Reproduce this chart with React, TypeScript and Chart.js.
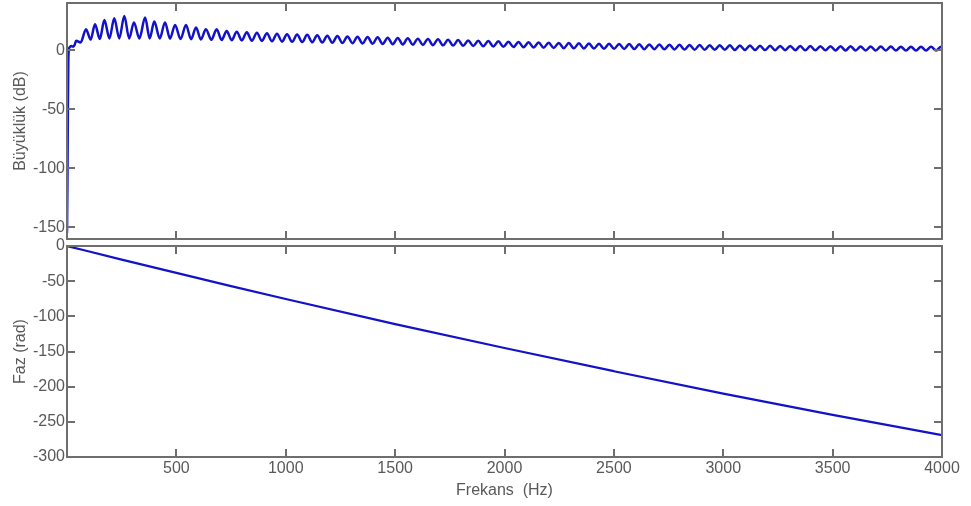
import { useEffect, useRef } from "react";
import { Chart, registerables } from "chart.js";

Chart.register(...registerables);

// ---------- data ----------
const xTickValues = [500, 1000, 1500, 2000, 2500, 3000, 3500, 4000];
const magTickValues = [-150, -100, -50, 0];
const phaseTickValues = [-300, -250, -200, -150, -100, -50, 0];

// magnitude onset (Hz, dB)
const magOnset: [number, number][] = [
  [0, -155], [2, -110], [4, -50], [6, -10], [8, 0], [12, 2.5], [20, 3.5], [28, 3], [34, 4],
];

// ripple peaks (Hz, dB)
const magPeaks: [number, number][] = [
  [42, 8], [87, 17.7], [128, 22], [171, 25.5], [216, 27], [262, 29], [306, 23.5], [357, 27.7],
  [399, 24.3], [448, 23.5], [494, 21.4], [544, 21.4], [590, 19.2], [635, 17.7], [684, 17.7],
  [730, 16.3], [776, 15.7], [822, 15.2], [868, 14.8], [914, 14.4], [960, 14.0], [1006, 13.6],
  [1052, 13.3], [1098, 13.0], [1144, 12.6], [1190, 12.3], [1236, 12.0], [1282, 11.7], [1328, 11.4],
  [1374, 11.1], [1420, 10.9], [1466, 10.6], [1512, 10.4], [1558, 10.1], [1604, 9.8], [1650, 9.5],
  [1696, 9.2], [1742, 8.9], [1788, 8.6], [1834, 8.3], [1880, 8.0], [1926, 7.8], [1972, 7.5],
  [2018, 7.2], [2064, 7.0], [2110, 6.8], [2156, 6.6], [2202, 6.4], [2248, 6.2], [2294, 6.0],
  [2340, 5.8], [2386, 5.6], [2432, 5.5], [2478, 5.4], [2524, 5.3], [2570, 5.2], [2616, 5.0],
  [2662, 4.9], [2708, 4.8], [2754, 4.7], [2800, 4.6], [2846, 4.5], [2892, 4.4], [2938, 4.3],
  [2984, 4.2], [3030, 4.1], [3076, 4.0], [3122, 3.9], [3168, 3.8], [3214, 3.7], [3260, 3.6],
  [3306, 3.6], [3352, 3.5], [3398, 3.5], [3444, 3.4], [3490, 3.4], [3536, 3.3], [3582, 3.3],
  [3628, 3.2], [3674, 3.2], [3720, 3.1], [3766, 3.1], [3812, 3.0], [3858, 3.0], [3904, 3.0],
  [3950, 2.9], [3996, 2.9],
];

// ripple troughs (Hz, dB)
const magTroughs: [number, number][] = [
  [62, 6.5], [108, 9], [150, 9.5], [194, 10], [239, 10], [284, 10], [331, 10], [378, 10],
  [424, 10], [471, 9.8], [519, 9.5], [567, 9.3], [612, 9.1], [660, 8.9], [707, 8.7], [753, 8.5],
  [799, 8.3], [845, 8.1], [891, 7.8], [937, 7.6], [983, 7.3], [1029, 7.1], [1075, 6.9],
  [1121, 6.7], [1167, 6.5], [1213, 6.3], [1259, 6.1], [1305, 5.9], [1351, 5.7], [1397, 5.5],
  [1443, 5.3], [1489, 5.1], [1535, 4.9], [1581, 4.7], [1627, 4.5], [1673, 4.3], [1719, 4.1],
  [1765, 3.9], [1811, 3.7], [1857, 3.5], [1903, 3.3], [1949, 3.1], [1995, 2.9], [2041, 2.7],
  [2087, 2.5], [2133, 2.3], [2179, 2.1], [2225, 1.9], [2271, 1.7], [2317, 1.6], [2363, 1.5],
  [2409, 1.4], [2455, 1.3], [2501, 1.2], [2547, 1.1], [2593, 1.0], [2639, 0.9], [2685, 0.8],
  [2731, 0.7], [2777, 0.6], [2823, 0.5], [2869, 0.4], [2915, 0.4], [2961, 0.3], [3007, 0.3],
  [3053, 0.2], [3099, 0.2], [3145, 0.1], [3191, 0.1], [3237, 0.0], [3283, 0.0], [3329, 0.0],
  [3375, -0.1], [3421, -0.1], [3467, -0.1], [3513, -0.2], [3559, -0.2], [3605, -0.2],
  [3651, -0.2], [3697, -0.3], [3743, -0.3], [3789, -0.3], [3835, -0.3], [3881, -0.3],
  [3927, -0.3], [3973, -0.3],
];
const magEnd: [number, number][] = [[4000, 2.2]];

// phase (Hz, rad)
const phasePoints: [number, number][] = [
  [0, 0], [250, -19.3], [500, -38.3], [750, -57], [1000, -75.3], [1500, -111], [2000, -145],
  [2500, -178], [3000, -210], [3500, -240], [4000, -269],
];

// ---------- styling ----------
const W = 971;
const H = 506;
const LINE = "#1212c8";
const AXIS = "#6e6e6e";
const TEXT = "#595959";
const FONT = "'Liberation Sans', Arial, sans-serif";
const TL = 8;

const framePlugin = (xt: number[], yt: number[]) => ({
  id: "frame",
  afterDatasetsDraw(chart: any) {
    const { ctx, chartArea: a, scales } = chart;
    const xs = scales.x;
    const ys = scales.y;
    ctx.save();
    ctx.strokeStyle = AXIS;
    ctx.lineWidth = 2;
    ctx.beginPath();
    for (const v of xt) {
      const px = Math.round(xs.getPixelForValue(v));
      if (px <= a.left + 1 || px >= a.right - 1) continue;
      ctx.moveTo(px, a.bottom);
      ctx.lineTo(px, a.bottom - TL);
      ctx.moveTo(px, a.top);
      ctx.lineTo(px, a.top + TL);
    }
    for (const v of yt) {
      const py = Math.round(ys.getPixelForValue(v));
      if (py <= a.top + 1 || py >= a.bottom - 1) continue;
      ctx.moveTo(a.left, py);
      ctx.lineTo(a.left + TL, py);
      ctx.moveTo(a.right, py);
      ctx.lineTo(a.right - TL, py);
    }
    ctx.stroke();
    ctx.strokeRect(a.left, a.top, a.right - a.left, a.bottom - a.top);
    ctx.restore();
  },
});

function toXY(rows: [number, number][]) {
  return rows.map(([x, y]) => ({ x, y }));
}

function makeConfig(opts: {
  data: { x: number; y: number }[];
  yMin: number;
  yMax: number;
  yTicks: number[];
  yTitle: string;
  padTop: number;
  padBottom: number;
  showX: boolean;
  lineWidth: number;
}): any {
  return {
    type: "line",
    data: {
      datasets: [
        {
          data: opts.data,
          borderColor: LINE,
          borderWidth: opts.lineWidth,
          pointRadius: 0,
          fill: false,
          cubicInterpolationMode: "monotone",
        },
      ],
    },
    options: {
      animation: false,
      responsive: false,
      events: [],
      layout: { padding: { left: 0, right: W - 942, top: opts.padTop, bottom: opts.padBottom } },
      plugins: { legend: { display: false }, tooltip: { enabled: false } },
      scales: {
        x: {
          type: "linear",
          min: 0,
          max: 4000,
          grid: { display: false, drawTicks: false },
          border: { display: false },
          afterBuildTicks: (s: any) => {
            s.ticks = xTickValues.map((v) => ({ value: v }));
          },
          afterFit: (s: any) => {
            s.height = opts.showX ? H - 457 - opts.padBottom : 0;
            s.paddingLeft = 0;
            s.paddingRight = 0;
          },
          ticks: {
            display: opts.showX,
            color: TEXT,
            font: { family: FONT, size: 16 },
            padding: 2,
            maxRotation: 0,
            autoSkip: false,
            callback: (v: any) => String(v),
          },
          title: {
            display: opts.showX,
            text: "Frekans  (Hz)",
            color: TEXT,
            font: { family: FONT, size: 16 },
            padding: { top: 0, bottom: 6 },
          },
        },
        y: {
          type: "linear",
          min: opts.yMin,
          max: opts.yMax,
          grid: { display: false, drawTicks: false },
          border: { display: false },
          afterBuildTicks: (s: any) => {
            s.ticks = opts.yTicks.map((v) => ({ value: v }));
          },
          afterFit: (s: any) => {
            s.width = 67;
            s.paddingTop = 0;
            s.paddingBottom = 0;
          },
          ticks: {
            color: TEXT,
            font: { family: FONT, size: 16 },
            padding: 2,
            autoSkip: false,
            callback: (v: any) => String(v),
          },
          title: {
            display: true,
            text: opts.yTitle,
            color: TEXT,
            font: { family: FONT, size: 16 },
            padding: { top: 11, bottom: 0 },
          },
        },
      },
    },
    plugins: [framePlugin(xTickValues, opts.yTicks)],
  };
}

export default function App() {
  const topRef = useRef<HTMLCanvasElement>(null);
  const botRef = useRef<HTMLCanvasElement>(null);

  useEffect(() => {
    const magData = toXY(
      [...magOnset, ...magPeaks, ...magTroughs, ...magEnd].sort((a, b) => a[0] - b[0])
    );
    const top = new Chart(
      topRef.current!,
      makeConfig({
        data: magData,
        yMin: -160,
        yMax: 40,
        yTicks: magTickValues,
        yTitle: "Büyüklük (dB)",
        padTop: 3,
        padBottom: H - 239,
        showX: false,
        lineWidth: 2.5,
      })
    );
    const bot = new Chart(
      botRef.current!,
      makeConfig({
        data: toXY(phasePoints),
        yMin: -300,
        yMax: 0,
        yTicks: phaseTickValues,
        yTitle: "Faz (rad)",
        padTop: 246,
        padBottom: 0,
        showX: true,
        lineWidth: 2.2,
      })
    );
    return () => {
      top.destroy();
      bot.destroy();
    };
  }, []);

  const style: any = { position: "absolute", left: 0, top: 0, width: W, height: H };
  return (
    <div style={{ position: "absolute", left: 0, top: 0, width: W, height: H, background: "#fff" }}>
      <canvas ref={topRef} width={W} height={H} style={style} />
      <canvas ref={botRef} width={W} height={H} style={style} />
    </div>
  );
}
